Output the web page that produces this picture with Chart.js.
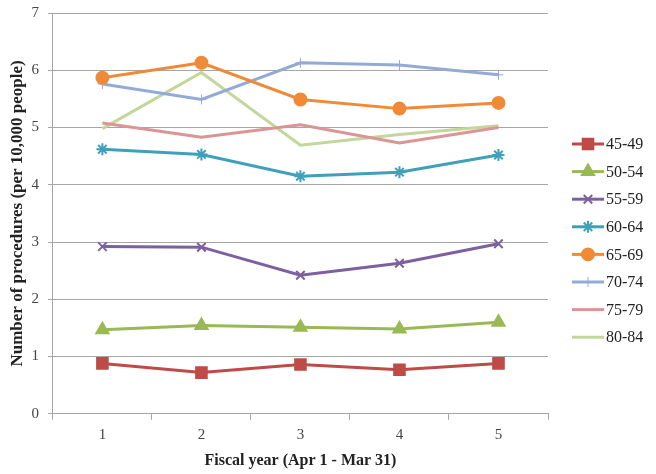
<!DOCTYPE html>
<html>
<head>
<meta charset="utf-8">
<script src="https://cdn.jsdelivr.net/npm/chart.js@4"></script>
<style>
  html, body { margin: 0; padding: 0; background: #fff; }
  #wrap { width: 656px; height: 474px; }
</style>
</head>
<body>
<div id="wrap"><canvas id="procChart" width="656" height="474"></canvas></div>
<script>
const YEARS = ['1', '2', '3', '4', '5'];
const AGE_GROUPS = ['45-49', '50-54', '55-59', '60-64', '65-69', '70-74', '75-79', '80-84'];

const rate4549 = [0.88, 0.72, 0.86, 0.77, 0.88];
const rate5054 = [1.47, 1.54, 1.51, 1.48, 1.60];
const rate5559 = [2.92, 2.91, 2.42, 2.63, 2.97];
const rate6064 = [4.62, 4.53, 4.15, 4.22, 4.52];
const rate6569 = [5.87, 6.13, 5.49, 5.33, 5.43];
const rate7074 = [5.76, 5.49, 6.13, 6.09, 5.92];
const rate7579 = [5.08, 4.83, 5.05, 4.73, 5.00];
const rate8084 = [4.98, 5.96, 4.69, 4.88, 5.03];

const SERIES = [rate4549, rate5054, rate5559, rate6064, rate6569, rate7074, rate7579, rate8084];

const COLORS = ['#be4b48', '#98b954', '#7d60a0', '#3fa0bb', '#f08a37', '#94aad6', '#d99694', '#c3d69b'];
const MARKERS = ['rect', 'triangle', 'crossRot', 'star', 'circle', 'cross', false, false];
const RADII = [7.5, 7, 6, 6, 6, 5, 0, 0];

const FONT = '"Liberation Serif", "DejaVu Serif", serif';
const GRID = '#a6a6a6';

const datasets = AGE_GROUPS.map((label, i) => ({
  label,
  data: SERIES[i],
  borderColor: COLORS[i],
  backgroundColor: COLORS[i],
  borderWidth: 3,
  pointStyle: MARKERS[i],
  pointRadius: RADII[i],
  pointHoverRadius: RADII[i],
  pointBorderWidth: (MARKERS[i] === 'cross' ? 1 : 2),
  pointBorderColor: COLORS[i],
  pointBackgroundColor: COLORS[i],
  tension: 0
}));

// legend on the right, drawn by hand so its spacing matches
const sideLegend = {
  id: 'sideLegend',
  afterDraw(chart) {
    const ctx = chart.ctx;
    const x0 = 572, x1 = 604, top = 144, step = 27.6;
    ctx.save();
    chart.data.datasets.forEach((ds, i) => {
      const y = top + i * step;
      ctx.strokeStyle = ds.borderColor;
      ctx.lineWidth = 3;
      ctx.beginPath();
      ctx.moveTo(x0, y);
      ctx.lineTo(x1, y);
      ctx.stroke();
      if (ds.pointStyle && Chart.helpers && Chart.helpers.drawPoint) {
        ctx.fillStyle = ds.backgroundColor;
        ctx.strokeStyle = ds.borderColor;
        ctx.lineWidth = ds.pointBorderWidth;
        Chart.helpers.drawPoint(ctx, {
          pointStyle: ds.pointStyle,
          radius: ds.pointRadius,
          rotation: 0,
          borderWidth: ds.pointBorderWidth
        }, (x0 + x1) / 2, y);
      }
      ctx.fillStyle = '#222';
      ctx.font = '16px ' + FONT;
      ctx.textBaseline = 'middle';
      ctx.textAlign = 'left';
      ctx.fillText(ds.label, x1 + 2, y + 1);
    });
    ctx.restore();
  }
};

new Chart(document.getElementById('procChart'), {
  type: 'line',
  data: { labels: YEARS, datasets },
  options: {
    responsive: false,
    animation: false,
    layout: { padding: { left: 7, right: 108, top: 0, bottom: 4 } },
    plugins: {
      legend: { display: false },
      tooltip: { enabled: false }
    },
    scales: {
      x: {
        offset: true,
        grid: { drawOnChartArea: false, offset: true, tickLength: 6, color: GRID },
        border: { color: GRID },
        ticks: { color: '#444', font: { family: FONT, size: 15 }, padding: 6 },
        title: {
          display: true,
          text: 'Fiscal year (Apr 1 - Mar 31)',
          color: '#222',
          font: { family: FONT, size: 16, weight: 'bold' },
          padding: { top: 1, bottom: 0 }
        }
      },
      y: {
        min: 0,
        max: 7,
        afterFit(scale) {
          scale.width -= 7;
          scale.paddingTop = 13;
        },
        ticks: { stepSize: 1, color: '#444', font: { family: FONT, size: 15 }, padding: 9 },
        grid: { color: GRID, tickLength: 5 },
        border: { color: GRID },
        title: {
          display: true,
          text: 'Number of procedures (per 10,000 people)',
          color: '#222',
          font: { family: FONT, size: 17, weight: 'bold' },
          padding: { top: 0, bottom: 2 }
        }
      }
    }
  },
  plugins: [sideLegend]
});
</script>
</body>
</html>
